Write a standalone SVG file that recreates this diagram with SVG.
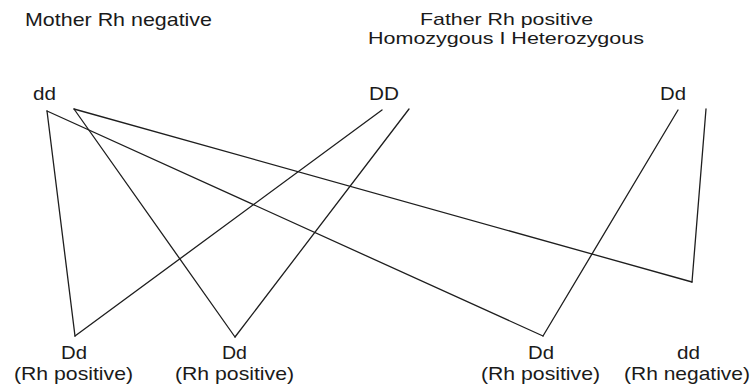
<svg xmlns="http://www.w3.org/2000/svg" width="753" height="392" viewBox="0 0 753 392">
<style>
text{font-family:"Liberation Sans",Arial,sans-serif;font-size:19px;fill:#1a1a1a}
.t2{font-size:17px}
.c line{stroke:#1e1e1e;stroke-width:1.3;fill:none;stroke-linecap:round}
</style>
<rect width="753" height="392" fill="#fff"/>
<g id="title-mother"><text x="25" y="26" textLength="187" lengthAdjust="spacingAndGlyphs">Mother Rh negative</text></g>
<g id="title-father"><text class="t2" x="420" y="25" textLength="173" lengthAdjust="spacingAndGlyphs">Father Rh positive</text>
<text class="t2" x="368" y="44" textLength="276" lengthAdjust="spacingAndGlyphs">Homozygous I Heterozygous</text></g>
<g id="mother-dd"><text x="33" y="100" textLength="23" lengthAdjust="spacingAndGlyphs">dd</text></g>
<g id="father-DD"><text x="369" y="100" textLength="30" lengthAdjust="spacingAndGlyphs">DD</text></g>
<g id="father-Dd"><text x="660" y="100" textLength="26" lengthAdjust="spacingAndGlyphs">Dd</text></g>
<g id="child1"><text x="61" y="359" textLength="26" lengthAdjust="spacingAndGlyphs">Dd</text><text x="14" y="380" textLength="119" lengthAdjust="spacingAndGlyphs">(Rh positive)</text></g>
<g id="child2"><text x="222" y="359" textLength="25" lengthAdjust="spacingAndGlyphs">Dd</text><text x="175" y="380" textLength="119" lengthAdjust="spacingAndGlyphs">(Rh positive)</text></g>
<g id="child3"><text x="528" y="359" textLength="26" lengthAdjust="spacingAndGlyphs">Dd</text><text x="481" y="380" textLength="119" lengthAdjust="spacingAndGlyphs">(Rh positive)</text></g>
<g id="child4"><text x="677" y="359" textLength="23" lengthAdjust="spacingAndGlyphs">dd</text><text x="624" y="380" textLength="126" lengthAdjust="spacingAndGlyphs">(Rh negative)</text></g>
<g id="connectors" class="c">
<line x1="47" y1="111" x2="75" y2="336"/>
<line x1="47" y1="111" x2="543" y2="336"/>
<line x1="74" y1="109" x2="235" y2="337"/>
<line x1="74" y1="109" x2="692" y2="282"/>
<line x1="382" y1="110" x2="75" y2="336"/>
<line x1="409" y1="109" x2="235" y2="337"/>
<line x1="678" y1="110" x2="543" y2="336"/>
<line x1="706" y1="109" x2="692" y2="282"/>
</g>
</svg>
